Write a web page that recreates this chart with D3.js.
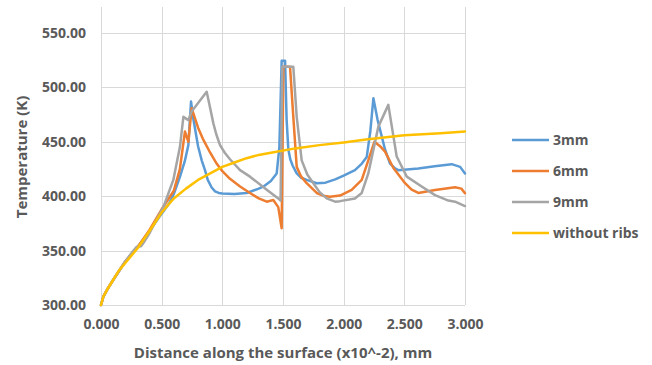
<!DOCTYPE html>
<html>
<head>
<meta charset="utf-8">
<script src="https://cdn.jsdelivr.net/npm/d3@7"></script>
<style>
  html, body { margin: 0; padding: 0; background: #ffffff; }
  svg { display: block; }
  text { font-family: "Open Sans", "Noto Sans", sans-serif; fill: #595959; font-weight: 700; }
</style>
</head>
<body>
<svg id="chart" width="652" height="365"></svg>
<script>
// Surface temperature along the heated wall for different rib sizes
const seriesNames = ["3mm", "6mm", "9mm", "without ribs"];
const seriesColors = ["#5B9BD5", "#ED7D31", "#A5A5A5", "#FFC000"];

const xTicks = [0, 0.5, 1.0, 1.5, 2.0, 2.5, 3.0];
const yTicks = [300, 350, 400, 450, 500, 550];

// [distance (x10^-2 mm), temperature (K)]
const rib3mm = [
  [0, 300], [0.02, 308], [0.05, 314], [0.1, 323], [0.2, 340], [0.3, 353], [0.4, 368], [0.5, 384],
  [0.56, 393], [0.6, 402], [0.651, 418], [0.69, 432], [0.72, 447], [0.742, 487],
  [0.76, 472], [0.8, 446], [0.83, 433], [0.857, 424], [0.88, 415], [0.912, 408],
  [0.94, 404.5], [0.97, 403], [1.0, 402.5], [1.1, 402], [1.2, 403], [1.3, 407],
  [1.34, 409], [1.4, 414], [1.448, 421], [1.47, 445], [1.489, 524.5], [1.517, 524.5],
  [1.53, 470], [1.544, 443], [1.56, 434], [1.58, 428], [1.613, 421], [1.65, 417],
  [1.695, 415], [1.778, 412], [1.85, 412.5], [1.93, 415.5], [2.0, 419],
  [2.093, 424], [2.15, 430], [2.19, 436], [2.22, 460], [2.245, 490], [2.28, 470],
  [2.341, 443], [2.382, 430], [2.42, 426], [2.45, 424], [2.615, 425.5], [2.75, 427.5],
  [2.89, 429.5], [2.96, 427], [3.0, 421]
];
const rib6mm = [
  [0, 300], [0.02, 308], [0.05, 314], [0.1, 323], [0.2, 340], [0.3, 353], [0.4, 369], [0.5, 388],
  [0.6, 405], [0.65, 425], [0.692, 459.5], [0.72, 450], [0.747, 481], [0.8, 463],
  [0.843, 452], [0.9, 440], [0.953, 430], [1.0, 423], [1.063, 416], [1.146, 409],
  [1.228, 403], [1.3, 398], [1.366, 395], [1.42, 396.5], [1.461, 390], [1.489, 370.5],
  [1.503, 519], [1.558, 519], [1.585, 473], [1.613, 427], [1.65, 418], [1.695, 412],
  [1.778, 403], [1.83, 400.5], [1.887, 399.6], [1.97, 400.6], [2.066, 405.8], [2.149, 415],
  [2.203, 433], [2.253, 450], [2.3, 446], [2.341, 441], [2.41, 426], [2.506, 412],
  [2.56, 406], [2.615, 403], [2.753, 405.8], [2.918, 408.3], [2.97, 407], [3.0, 402.8]
];
const rib9mm = [
  [0, 300], [0.02, 308], [0.05, 314], [0.1, 323], [0.2, 340], [0.26, 349], [0.294, 353.5], [0.33, 354],
  [0.349, 357], [0.4, 366], [0.45, 377], [0.514, 390], [0.596, 415], [0.651, 445.7],
  [0.679, 473], [0.72, 470], [0.747, 478], [0.871, 496], [0.9, 481], [0.926, 467],
  [0.95, 457], [0.981, 447], [1.02, 440], [1.063, 434], [1.146, 424], [1.228, 418],
  [1.366, 406], [1.461, 398], [1.48, 396], [1.494, 519], [1.585, 519], [1.613, 473],
  [1.654, 433], [1.7, 420], [1.75, 412], [1.8, 404], [1.86, 398], [1.93, 395], [1.97, 395.5],
  [2.093, 398], [2.149, 403], [2.203, 421], [2.286, 464], [2.368, 484], [2.437, 436.5],
  [2.52, 418], [2.643, 409], [2.753, 401], [2.863, 396], [2.918, 395], [3.0, 391]
];
const noRibs = [
  [0, 300], [0.02, 308], [0.05, 314], [0.1, 323], [0.15, 332], [0.24, 344], [0.3, 352], [0.4, 368],
  [0.5, 385], [0.6, 398], [0.7, 407], [0.8, 415], [0.9, 421], [1.0, 427], [1.1, 431],
  [1.2, 435], [1.3, 438], [1.4, 440], [1.6, 444], [1.8, 447], [2.0, 449.5], [2.2, 452.5],
  [2.5, 456], [2.8, 458], [3.0, 459.5]
];
const seriesData = [rib3mm, rib6mm, rib9mm, noRibs];

const svg = d3.select("#chart");
const x = d3.scaleLinear().domain([0, 3]).range([101, 465]);
const y = d3.scaleLinear().domain([300, 574]).range([305, 7]);

// gridlines
const grid = svg.append("g").attr("stroke", "#d9d9d9").attr("stroke-width", 1);
grid.selectAll("line.v").data(xTicks).join("line")
  .attr("x1", d => Math.round(x(d)) + 0.5).attr("x2", d => Math.round(x(d)) + 0.5)
  .attr("y1", y(574)).attr("y2", y(300));
grid.selectAll("line.h").data(yTicks).join("line")
  .attr("x1", x(0)).attr("x2", x(3))
  .attr("y1", d => Math.round(y(d)) + 0.5).attr("y2", d => Math.round(y(d)) + 0.5);

// axes (labels only; gridlines carry the lines)
const xAxis = svg.append("g")
  .attr("transform", `translate(0,${y(300)})`)
  .call(d3.axisBottom(x).tickValues(xTicks).tickFormat(d3.format(".3f")).tickSize(0).tickPadding(14));
xAxis.select(".domain").remove();
xAxis.selectAll("text").attr("font-size", 14).attr("font-family", null).attr("fill", null);

const yAxis = svg.append("g")
  .attr("transform", `translate(${x(0)},0)`)
  .call(d3.axisLeft(y).tickValues(yTicks).tickFormat(d3.format(".2f")).tickSize(0).tickPadding(15));
yAxis.select(".domain").remove();
yAxis.selectAll("text").attr("font-size", 14).attr("font-family", null).attr("fill", null);

// series
const line = d3.line().x(d => x(d[0])).y(d => y(d[1]));
svg.append("g").selectAll("path").data(seriesData).join("path")
  .attr("d", line)
  .attr("fill", "none")
  .attr("stroke", (d, i) => seriesColors[i])
  .attr("stroke-width", 2.5)
  .attr("stroke-linejoin", "round")
  .attr("stroke-linecap", "round");

// axis titles
svg.append("text")
  .attr("x", 283).attr("y", 358)
  .attr("text-anchor", "middle").attr("font-size", 15)
  .text("Distance along the surface (x10^-2), mm");
svg.append("text")
  .attr("transform", "translate(27,157) rotate(-90)")
  .attr("text-anchor", "middle").attr("font-size", 15)
  .text("Temperature (K)");

// legend
const legend = svg.append("g").selectAll("g").data(seriesNames).join("g")
  .attr("transform", (d, i) => `translate(512,${140 + i * 31})`);
legend.append("line")
  .attr("x1", 0).attr("x2", 37).attr("y1", 0).attr("y2", 0)
  .attr("stroke", (d, i) => seriesColors[i]).attr("stroke-width", 2.5);
legend.append("text")
  .attr("x", 41).attr("y", 0).attr("dy", "0.35em")
  .attr("font-size", 14)
  .text(d => d);
</script>
</body>
</html>
